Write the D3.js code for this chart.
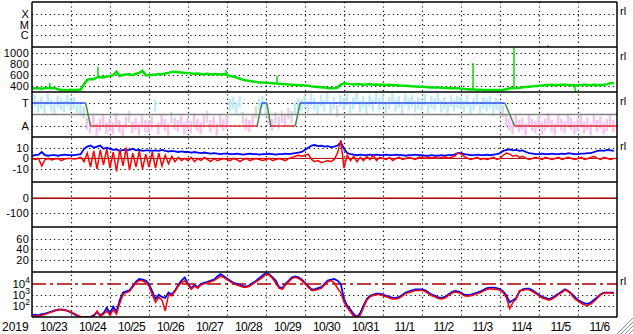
<!DOCTYPE html>
<html>
<head>
<meta charset="utf-8">
<script src="https://cdn.jsdelivr.net/npm/d3@7"></script>
<style>
  body { margin: 0; background: #fff; }
  svg { display: block; font-family: "Liberation Sans", Arial, sans-serif; }
</style>
</head>
<body>
<svg id="chart" width="633" height="334"></svg>
<script>
// ---- data (2-hour samples starting 2019-10-23 00:00 UT) ----
const stepHours = 2;
const yearLabel = '2019';
const dayLabels = ['10/23', '10/24', '10/25', '10/26', '10/27', '10/28', '10/29', '10/30',
    '10/31', '11/1', '11/2', '11/3', '11/4', '11/5', '11/6'];

const xrayTicks = [['X', 1e-4], ['M', 1e-5], ['C', 1e-6]];
const speedTicks = [400, 600, 800, 1000];
const sectorTicks = [['T', 1], ['A', -1]];
const bTicks = [10, 0, -10];
const dstTicks = [0, -100];
const kpTicks = [60, 40, 20];
const fluxTicks = [4, 3, 2];

// solar wind speed (km/s)
const speed = [
    362, 365, 368, 360, 370, 372, 366, 368, 350, 336, 334, 333,
    338, 336, 340, 345, 440, 515, 530, 525, 560, 565, 560, 580,
    585, 600, 660, 585, 605, 610, 615, 600, 625, 640, 675, 600,
    600, 605, 610, 620, 615, 630, 640, 655, 660, 650, 645, 640,
    640, 630, 625, 630, 620, 615, 625, 610, 620, 615, 610, 620,
    600, 585, 570, 555, 535, 515, 505, 495, 485, 480, 470, 468,
    465, 460, 455, 450, 445, 442, 438, 435, 430, 425, 420, 418,
    415, 410, 400, 395, 390, 385, 380, 372, 368, 365, 380, 430,
    455, 445, 440, 435, 440, 438, 430, 435, 440, 430, 435, 428,
    430, 425, 428, 420, 418, 415, 412, 410, 405, 400, 398, 395,
    392, 388, 385, 382, 380, 378, 375, 372, 370, 368, 366, 365,
    360, 355, 350, 345, 345, 340, 338, 336, 335, 334, 334, 335,
    336, 340, 350, 365, 368, 370, 375, 385, 390, 395, 400, 405,
    410, 415, 420, 425, 430, 420, 425, 430, 428, 425, 420, 420,
    420, 425, 430, 425, 420, 430, 425, 420, 430, 440, 455, 460
];
// short spikes in the speed trace
const spikeHours = [11, 40.6, 119.4, 150.8, 271.4, 296.6, 334.2];
const spikeValues = [460, 750, 690, 585, 815, 1090, 305];

// IMF sector angle samples (+1 toward, -1 away)
const sectorPhi = [
    0.9, 1.2, 0.7, 1.0, 0.6, 1.3, 0.8, 0.5, 1.1, 0.9, 0.7, 1.2,
    0.8, 1.0, 0.6, 0.4, 0.2, -0.8, -1.1, -0.6, -1.3, -0.9, -0.5, -1.2,
    -0.9, -1.2, -0.4, -1.0, -1.4, -0.7, -0.2, -1.1, -0.8, -1.3, -0.6, -1.0,
    -1.1, -0.7, 0.8, -1.2, -0.5, -0.9, -1.3, -0.3, -0.8, -1.0, -0.6, -1.2,
    -0.8, -1.1, -0.4, -0.9, -1.2, -0.6, -0.2, -1.0, -0.7, -1.3, -0.5, -0.9,
    -0.7, 0.8, 1.0, 0.6, 1.1, -0.3, -0.8, -1.0, -0.5, 0.2, 0.9, 1.1,
    0.6, -0.4, -0.9, -0.3, -0.7, -0.2, -0.5, 0.1, -0.2, 0.5, 0.9, 0.8,
    1.1, 0.7, 1.3, 0.9, 0.5, 1.2, 0.8, 1.4, 0.6, 1.0, 0.3, 1.2,
    0.9, 1.3, 0.6, 1.0, 1.4, 0.7, 1.1, 0.5, 1.2, 0.8, 1.5, 0.9,
    1.2, 0.6, 1.0, 1.4, 0.8, 1.1, 0.5, 1.3, 0.9, 1.2, 0.7, 1.0,
    0.8, 1.3, 0.6, 1.1, 0.9, 1.4, 0.7, 1.0, 0.4, 1.2, 0.8, 1.1,
    1.0, 0.7, 1.2, 0.5, 0.9, 1.3, 0.6, 1.0, 0.8, 1.1, 0.4, 0.9,
    0.7, 0.3, -0.5, -0.9, -1.2, -0.6, -1.0, -0.8, -1.3, -0.5, -0.9, -1.1,
    -0.7, -1.2, -0.9, -0.4, -1.0, -1.3, -0.6, -0.9, -1.1, -0.5, -0.8, -1.2,
    -0.9, -0.6, -1.1, -0.8, -1.3, -0.5, -1.0, -0.7, -1.2, -0.9, -0.6, -1.0
];
// sector polarity line (hours, level)
const sectorHours = [0, 33, 36, 138.5, 141.5, 144.5, 147, 162, 165, 291, 297, 360];
const sectorLevels = [1, 1, -1, -1, 1, 1, -1, -1, 1, 1, -1, -1];

// IMF Bt and Bz (nT)
const bt = [
    2.5, 3, 3.5, 6, 3, 2.5, 3, 3, 2.5, 3, 3.5, 3,
    3, 3, 3.5, 4, 9, 11, 12, 10, 11, 12, 9, 10,
    9, 8, 8.5, 7, 8, 7.5, 8, 9, 7.5, 8, 7, 7.5,
    7.5, 7, 7.5, 7, 8, 7, 6.5, 7, 6.5, 6, 6.5, 6,
    6, 5.5, 6, 5.5, 5, 5.5, 5, 4.5, 5, 4.5, 4, 4.5,
    4.5, 4, 4, 4.5, 4, 3.5, 4, 4.5, 4, 4, 3.5, 4,
    4, 4.5, 4, 3.5, 4, 4, 4.5, 4, 4.5, 5, 5.5, 6,
    8, 10, 12, 12.5, 11.5, 12, 11, 11.5, 10.5, 11, 12, 15,
    9, 5, 4, 3.5, 3, 3.5, 3, 3, 3.5, 3, 3.5, 3,
    3, 3.5, 3, 3, 3.5, 3, 3, 2.5, 3, 3, 3.5, 3,
    3, 2.5, 2.5, 3, 2.5, 2.5, 3, 2.5, 3, 3, 3.5, 5,
    5, 4, 3.5, 3, 3, 3.5, 3, 3, 3.5, 3, 3.5, 4,
    5, 7, 8, 8.5, 7.5, 8, 7, 7.5, 6, 5, 4.5, 4,
    4, 4.5, 4, 4, 4.5, 4, 4, 4.5, 4, 5, 4.5, 4,
    4, 4.5, 4.5, 5, 5, 6, 7, 7.5, 7, 8, 7.5, 7
];
const bz = [
    0, -1, 0, -7, -1, 0, -1.5, -0.5, 0, -2, -0.5, 0,
    0, -0.5, 0, 1, -3, 5, -8, 7, -10, 8, -6, 9,
    -9, 6, -12, 8, -7, 10, -11, 5, -8, 7, -10, 4,
    -8, 6, -9, 5, -7, 3, -5, 2, -3, 1, -2, 0,
    -2, 1, -3, 0, -2, 1, -1, -3, 0, -2, -1, 0,
    -1, -2, 0, -1, -3, -1, 0, -2, -1, 0, -1, -2,
    -1, 0, -2, -1, 0, -1, -2, 0, 1, 2, 3, 2,
    3, 4, -1, -3, -2, -4, -3, -2, -3, -1, 5, 17,
    -9, 3, -2, 2, -3, 1, -2, 2, -1, 3, -2, 1,
    0, -1, 1, -2, 0, 1, -1, 0, 1, 0, -1, 1,
    1, 0, 1, 0.5, 1, 0, 1, 1.5, 0.5, 1, 2, 5,
    4, 2, 0, -1, 0, 1, -1, 0, -1, 0, 1, -1,
    0, 3, 5, 4, 2, 3, 1, 2, 0, -1, 0, 1,
    0, -1, 1, 0, -1, 0, 1, -1, 0, 1, 0, -1,
    0, 1, -1, 0, 1, 2, 0, -1, 1, 0, -1, 0
];

// electron flux, log10 (two satellites)
const fluxBlue = [
    1.1, 1.15, 1.1, 1.2, 1.25, 1.35, 1.45, 1.55, 1.6, 1.65, 1.6, 1.5,
    1.35, 1.2, 1.05, 0.95, 0.95, 0.95, 0.95, 1.1, 1.4, 1.1, 1.3, 1.8,
    1.3, 1.9, 1.4, 2.5, 3.2, 3.3, 3.4, 3.8, 4.2, 4.45, 4.4, 4.3,
    4.0, 3.3, 2.6, 3.0, 2.8, 2.7, 3.2, 3.0, 3.4, 3.9, 4.3, 4.6,
    4.0, 3.6, 3.9, 3.7, 4.0, 4.1, 4.2, 4.3, 4.4, 4.7, 4.9, 4.7,
    4.5, 4.3, 4.1, 4.0, 3.9, 3.8, 3.75, 3.9, 4.1, 4.3, 4.55, 4.8,
    5.0, 4.9, 4.6, 4.3, 3.7, 3.6, 4.0, 4.3, 4.6, 4.7, 4.6, 4.4,
    4.1, 3.8, 3.5, 3.5, 3.6, 3.7, 4.0, 4.3, 4.4, 4.45, 4.3, 4.0,
    2.6, 2.0, 1.6, 1.2, 0.95, 1.3, 2.0, 2.6, 2.9, 3.0, 3.1, 3.1,
    3.0, 2.9, 2.8, 2.7, 2.7, 2.8, 3.0, 3.2, 3.3, 3.4, 3.5, 3.5,
    3.5, 3.4, 3.2, 3.0, 2.9, 2.75, 2.7, 2.8, 3.0, 3.2, 3.35, 3.3,
    3.2, 3.0, 2.95, 3.0, 3.1, 3.2, 3.3, 3.45, 3.6, 3.65, 3.65, 3.6,
    3.5, 3.3, 2.9, 2.3, 2.5, 2.7, 3.3, 3.5, 3.55, 3.55, 3.4, 3.2,
    3.0, 2.8, 2.7, 2.6, 2.7, 2.9, 3.1, 3.3, 3.5, 3.35, 3.1, 2.8,
    2.5, 2.35, 2.2, 2.15, 2.3, 2.55, 2.8, 3.05, 3.2, 3.2, 3.2, 3.2
];
const fluxRed = [
    1.0, 1.05, 1.0, 1.1, 1.2, 1.3, 1.4, 1.5, 1.65, 1.6, 1.55, 1.55,
    1.4, 1.25, 1.1, 0.95, 0.95, 0.95, 0.95, 0.95, 1.5, 1.0, 1.2, 1.5,
    1.1, 1.6, 1.2, 2.2, 3.0, 3.2, 3.3, 3.7, 4.1, 4.3, 4.3, 4.1,
    3.8, 3.0, 2.3, 2.8, 2.5, 1.5, 3.0, 2.9, 3.3, 3.8, 4.1, 4.3,
    3.9, 3.5, 3.8, 3.6, 3.9, 4.0, 4.1, 4.2, 4.3, 4.5, 4.7, 4.6,
    4.4, 4.2, 4.0, 3.9, 3.8, 3.7, 3.7, 3.8, 4.0, 4.2, 4.4, 4.6,
    4.9, 4.8, 4.5, 4.1, 3.6, 3.5, 3.9, 4.2, 4.5, 4.6, 4.5, 4.3,
    4.0, 3.7, 3.4, 3.4, 3.5, 3.6, 3.9, 4.2, 4.3, 4.1, 3.6, 3.2,
    2.3, 1.8, 1.4, 1.0, 0.95, 1.1, 1.8, 2.5, 2.8, 2.95, 3.0, 3.05,
    2.9, 2.8, 2.7, 2.6, 2.6, 2.7, 2.9, 3.1, 3.2, 3.3, 3.4, 3.4,
    3.4, 3.3, 3.1, 2.9, 2.8, 2.65, 2.6, 2.7, 2.9, 3.1, 3.25, 3.2,
    3.1, 2.9, 2.85, 2.9, 3.0, 3.1, 3.2, 3.35, 3.5, 3.55, 3.5, 3.5,
    3.4, 3.2, 2.7, 1.7, 2.3, 2.6, 3.4, 3.4, 3.5, 3.45, 3.3, 3.1,
    2.9, 2.7, 2.6, 2.5, 2.6, 2.8, 3.0, 3.2, 3.45, 3.3, 3.0, 2.6,
    2.4, 2.2, 2.05, 2.0, 2.15, 2.4, 2.7, 3.0, 3.15, 3.15, 3.15, 3.1
];
const fluxAlert = 4;

// x-ray flare marks
const flareHours = [317.5];
const flareFlux = [8e-8];

function drawChart() {
    const svg = d3.select('#chart');
    const left = 32, right = 617, panelH = 45;
    const panelTops = [2, 47, 92, 137, 182, 227, 272];
    const bottom = panelTops[6] + panelH;

    const t0 = Date.UTC(2019, 9, 23);
    const toDate = h => new Date(t0 + h * 3600e3);
    const x = d3.scaleTime()
        .domain([toDate(0), toDate(dayLabels.length * 24)])
        .range([left, right]);

    const pb = i => panelTops[i] + panelH;
    const yX = d3.scaleLog().domain([7.2e-8, 1.39e-3]).range([pb(0), panelTops[0]]);
    const yV = d3.scaleLinear().domain([300, 1100]).range([pb(1), panelTops[1]]);
    const yS = d3.scaleLinear().domain([-1.96, 1.96]).range([pb(2), panelTops[2]]);
    const yB = d3.scaleLinear().domain([-22, 20]).range([pb(3), panelTops[3]]);
    const yD = d3.scaleLinear().domain([-199, 113]).range([pb(4), panelTops[4]]);
    const yK = d3.scaleLinear().domain([-2.5, 82]).range([pb(5), panelTops[5]]);
    const yE = d3.scaleLinear().domain([0.94, 5.1]).range([pb(6), panelTops[6]]);

    // clip paths per panel
    const defs = svg.append('defs');
    panelTops.forEach((top, i) => {
        defs.append('clipPath').attr('id', 'clip' + i)
            .append('rect').attr('x', left).attr('y', top)
            .attr('width', right - left).attr('height', panelH);
    });

    const dotted = sel => sel.attr('stroke', '#000').attr('stroke-width', 1.2)
        .attr('stroke-dasharray', '1.2,3.2').attr('fill', 'none');

    // vertical day grid
    const grid = svg.append('g');
    const days = d3.utcDay.range(toDate(24), toDate(dayLabels.length * 24));
    grid.selectAll('.vgrid').data(days).enter().append('line')
        .attr('class', 'vgrid')
        .attr('x1', d => Math.round(x(d)) + 0.5).attr('x2', d => Math.round(x(d)) + 0.5)
        .attr('y1', panelTops[0]).attr('y2', bottom)
        .call(dotted);

    // horizontal grid + left labels
    const labels = svg.append('g').attr('font-size', 11).attr('fill', '#000')
        .attr('text-anchor', 'end').attr('letter-spacing', 0.2);
    function addLabel(yv, label) {
        labels.append('text').attr('x', 29).attr('y', yv + 4).text(label);
    }
    function hRow(yv, label) {
        grid.append('line').attr('x1', left).attr('x2', right)
            .attr('y1', Math.round(yv) + 0.5).attr('y2', Math.round(yv) + 0.5)
            .call(dotted);
        if (label !== null) addLabel(yv, label);
    }
    xrayTicks.forEach(d => hRow(yX(d[1]), d[0]));
    speedTicks.forEach(d => hRow(yV(d), d));
    sectorTicks.forEach(d => hRow(yS(d[1]), d[0]));
    bTicks.forEach(d => d !== 0 ? hRow(yB(d), d) : addLabel(yB(0), d));
    dstTicks.forEach(d => d !== 0 ? hRow(yD(d), d) : addLabel(yD(0), d));
    kpTicks.forEach(d => hRow(yK(d), d));
    fluxTicks.forEach(d => {
        if (d !== fluxAlert) hRow(yE(d), null);
        const t = labels.append('text').attr('x', 30).attr('y', yE(d) + 4)
            .attr('font-size', 11.5).attr('letter-spacing', 0).text('10');
        t.append('tspan').attr('dy', -5).attr('font-size', 8.5).text(d);
    });

    const hrs = speed.map((_, i) => i * stepHours);

    // panel 1: flare marks
    svg.append('g').attr('clip-path', 'url(#clip0)')
        .selectAll('rect').data(flareHours).enter().append('rect')
        .attr('x', d => x(toDate(d)) - 1).attr('y', (d, i) => yX(flareFlux[i]) - 1)
        .attr('width', 2).attr('height', 2).attr('fill', '#e000e0');

    // panel 2: speed
    const gV = svg.append('g').attr('clip-path', 'url(#clip1)');
    const lineV = d3.line().x((d, i) => x(toDate(hrs[i]))).y(d => yV(d));
    gV.append('path').datum(speed).attr('d', lineV)
        .attr('fill', 'none').attr('stroke', '#00e000').attr('stroke-width', 2.5);
    gV.selectAll('.spike').data(spikeHours).enter().append('line')
        .attr('class', 'spike')
        .attr('x1', d => x(toDate(d))).attr('x2', d => x(toDate(d)))
        .attr('y1', d => yV(speed[Math.round(d / stepHours)]))
        .attr('y2', (d, i) => yV(spikeValues[i]))
        .attr('stroke', '#00e000').attr('stroke-width', 1.5);

    // panel 3: sector
    const gS = svg.append('g').attr('clip-path', 'url(#clip2)');
    const cw = x(toDate(stepHours)) - x(toDate(0));
    gS.selectAll('rect').data(sectorPhi).enter().append('rect')
        .attr('x', (d, i) => x(toDate(hrs[i])) - cw / 2)
        .attr('y', d => yS(d) - 6)
        .attr('width', cw - 0.8).attr('height', 12)
        .attr('fill', d => d > 0.35 ? '#bfeaf8' : (d < -0.35 ? '#f6c2f2' : '#dadada'));
    gS.append('line').attr('x1', left).attr('x2', right)
        .attr('y1', yS(0)).attr('y2', yS(0))
        .attr('stroke', '#808080').attr('stroke-width', 1.5);
    for (let i = 0; i < sectorHours.length - 1; i++) {
        const a = sectorLevels[i], b = sectorLevels[i + 1];
        gS.append('line')
            .attr('x1', x(toDate(sectorHours[i]))).attr('y1', yS(a))
            .attr('x2', x(toDate(sectorHours[i + 1]))).attr('y2', yS(b))
            .attr('stroke', a !== b ? '#4a8a4a' : (a > 0 ? '#3050f0' : '#e03030'))
            .attr('stroke-width', 1.5);
    }

    // panel 4: IMF
    const gB = svg.append('g').attr('clip-path', 'url(#clip3)');
    gB.append('line').attr('x1', left).attr('x2', right)
        .attr('y1', yB(0)).attr('y2', yB(0)).attr('stroke', '#a00000').attr('stroke-width', 1);
    const lineB = d3.line().x((d, i) => x(toDate(hrs[i]))).y(d => yB(d));
    gB.append('path').datum(bt).attr('d', lineB)
        .attr('fill', 'none').attr('stroke', '#0000ff').attr('stroke-width', 1.8);
    gB.append('path').datum(bz).attr('d', lineB)
        .attr('fill', 'none').attr('stroke', '#ff0000').attr('stroke-width', 1.5);

    // panel 5: Dst zero line
    svg.append('line').attr('x1', left).attr('x2', right)
        .attr('y1', yD(0)).attr('y2', yD(0))
        .attr('stroke', '#a00000').attr('stroke-width', 1.5);

    // panel 7: electron flux
    const gE = svg.append('g').attr('clip-path', 'url(#clip6)');
    gE.append('line').attr('x1', left).attr('x2', right)
        .attr('y1', yE(fluxAlert)).attr('y2', yE(fluxAlert))
        .attr('stroke', '#b00000').attr('stroke-width', 1.5)
        .attr('stroke-dasharray', '14,4,3,4');
    const lineE = d3.line().x((d, i) => x(toDate(hrs[i]))).y(d => yE(d));
    gE.append('path').datum(fluxBlue).attr('d', lineE)
        .attr('fill', 'none').attr('stroke', '#0000ff').attr('stroke-width', 1.8);
    gE.append('path').datum(fluxRed).attr('d', lineE)
        .attr('fill', 'none').attr('stroke', '#ff0000').attr('stroke-width', 1.5);

    // frame and panel separators
    const frame = svg.append('g').attr('stroke', '#000').attr('stroke-width', 1.5);
    panelTops.concat([bottom]).forEach(yv => {
        frame.append('line').attr('x1', left).attr('x2', right).attr('y1', yv).attr('y2', yv);
    });
    frame.append('line').attr('x1', left).attr('x2', left).attr('y1', panelTops[0]).attr('y2', bottom);
    frame.append('line').attr('x1', right).attr('x2', right).attr('y1', panelTops[0]).attr('y2', bottom);

    // right-hand markers
    [0, 1, 2, 3, 6].forEach(i => {
        svg.append('text').attr('x', 620).attr('y', panelTops[i] + 13)
            .attr('font-size', 11).text('rl');
    });

    // date axis labels
    svg.append('text').attr('x', 2).attr('y', 331).attr('font-size', 12).text(yearLabel);
    svg.append('g').selectAll('text').data(dayLabels).enter().append('text')
        .attr('x', (d, i) => x(toDate(i * 24 + 12)) + 2)
        .attr('y', 331).attr('font-size', 12).attr('text-anchor', 'middle')
        .attr('letter-spacing', -0.6)
        .text(d => d);

    // resize grip in the corner
    [4, 8, 12, 16].forEach(k => {
        svg.append('line').attr('x1', 633 - k).attr('y1', 334).attr('x2', 633).attr('y2', 334 - k)
            .attr('stroke', '#909090').attr('stroke-width', 1);
    });
}

window.addEventListener('load', drawChart);
</script>
</body>
</html>
